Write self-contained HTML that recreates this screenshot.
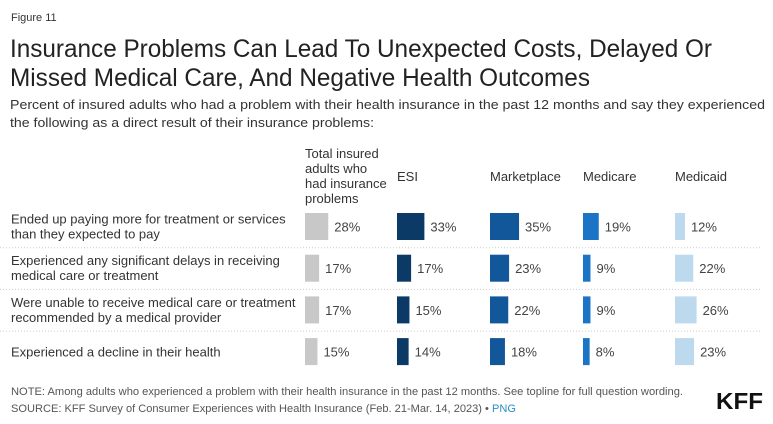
<!DOCTYPE html>
<html><head><meta charset="utf-8"><style>
body{margin:0;background:#fff;}
svg{display:block;font-family:"Liberation Sans",Arial,sans-serif;}
</style></head><body>
<svg id="chart" width="773" height="424" viewBox="0 0 773 424">
<text x="11" y="21" font-size="11" fill="#333">Figure 11</text>
<text x="10" y="57" font-size="25" fill="#222" textLength="702" lengthAdjust="spacingAndGlyphs">Insurance Problems Can Lead To Unexpected Costs, Delayed Or</text>
<text x="10" y="86" font-size="25" fill="#222" textLength="580" lengthAdjust="spacingAndGlyphs">Missed Medical Care, And Negative Health Outcomes</text>
<text x="10" y="109" font-size="13" fill="#333" textLength="755" lengthAdjust="spacingAndGlyphs">Percent of insured adults who had a problem with their health insurance in the past 12 months and say they experienced</text>
<text x="10" y="127" font-size="13" fill="#333" textLength="364" lengthAdjust="spacingAndGlyphs">the following as a direct result of their insurance problems:</text>
<g id="headers"></g>
<g id="rows"></g>
<text x="11" y="395" font-size="11" fill="#555" textLength="672" lengthAdjust="spacingAndGlyphs">NOTE: Among adults who experienced a problem with their health insurance in the past 12 months. See topline for full question wording.</text>
<text x="11" y="412" font-size="11" fill="#555" textLength="505" lengthAdjust="spacingAndGlyphs">SOURCE: KFF Survey of Consumer Experiences with Health Insurance (Feb. 21-Mar. 14, 2023) • <tspan fill="#2a8fc7">PNG</tspan></text>
<text x="716" y="409" font-size="23" font-weight="bold" fill="#111" textLength="47" lengthAdjust="spacingAndGlyphs">KFF</text>
</svg>
<script>
const categories = [
  ["Ended up paying more for treatment or services","than they expected to pay"],
  ["Experienced any significant delays in receiving","medical care or treatment"],
  ["Were unable to receive medical care or treatment","recommended by a medical provider"],
  ["Experienced a decline in their health"]
];
const seriesNames = [["Total insured","adults who","had insurance","problems"],["ESI"],["Marketplace"],["Medicare"],["Medicaid"]];
const totalVals = [28,17,17,15];
const esiVals = [33,17,15,14];
const marketplaceVals = [35,23,22,18];
const medicareVals = [19,9,9,8];
const medicaidVals = [12,22,26,23];
const seriesVals = [totalVals, esiVals, marketplaceVals, medicareVals, medicaidVals];
const colors = ["#c8c8c8","#0b3a66","#12579a","#1b74c6","#bcd9ee"];
const colX = [305,397,490,583,675];
const rowTop = i => 213 + i*41.7;
const barH = 27;
const w = v => v*0.83;
const NS="http://www.w3.org/2000/svg";
const hg=document.getElementById('headers'), rg=document.getElementById('rows');
function mk(tag,attrs,parent){const e=document.createElementNS(NS,tag);for(const k in attrs)e.setAttribute(k,attrs[k]);parent.appendChild(e);return e;}
seriesNames.forEach((lines,s)=>{
  const t=mk('text',{x:colX[s],'font-size':13,fill:'#333'},hg);
  
  
  const y0 = lines.length>1 ? 158 : 181;
  lines.forEach((ln,j)=>{const ts=mk('tspan',{x:colX[s],y:y0+j*15},t);ts.textContent=ln;});
});
categories.forEach((lines,i)=>{
  const top=rowTop(i), cy=top+barH/2;
  if(i>0){const l=mk('line',{x1:0,x2:760,y1:top-7,y2:top-7,stroke:'#ccc','stroke-dasharray':'1,2'},rg);
    
    }
  const t=mk('text',{x:11,'font-size':13,fill:'#333'},rg);
  
  
  const y0 = lines.length>1 ? cy-3 : cy+5;
  lines.forEach((ln,j)=>{const ts=mk('tspan',{x:11,y:y0+j*15},t);ts.textContent=ln;});
  seriesVals.forEach((vals,s)=>{
    const r=mk('rect',{x:colX[s],y:top,width:w(vals[i]),height:barH,fill:colors[s]},rg);
    
    
    const v=mk('text',{x:colX[s]+w(vals[i])+6,y:cy+5,'font-size':13,fill:'#444'},rg);
    
    
    v.textContent=vals[i]+'%';
  });
});
</script>
</body></html>
